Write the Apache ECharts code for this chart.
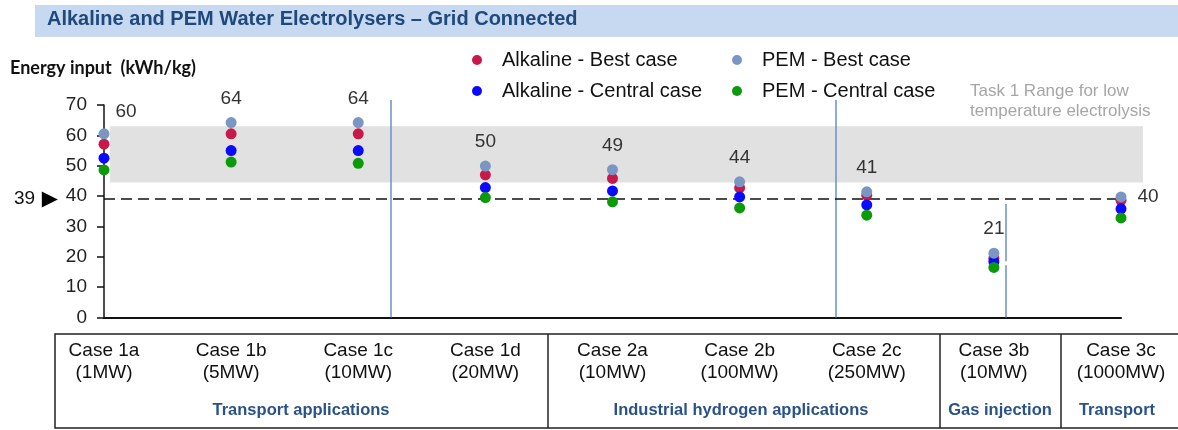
<!DOCTYPE html>
<html>
<head>
<meta charset="utf-8">
<script src="https://cdn.jsdelivr.net/npm/echarts@6/dist/echarts.min.js"></script>
<style>
html, body { margin: 0; padding: 0; background: #fff; }
#chart { width: 1178px; height: 430px; }
</style>
</head>
<body>
<div id="chart"></div>
<script>
var caseNames = ['Case 1a', 'Case 1b', 'Case 1c', 'Case 1d', 'Case 2a', 'Case 2b', 'Case 2c', 'Case 3b', 'Case 3c'];
var caseSizes = ['(1MW)', '(5MW)', '(10MW)', '(20MW)', '(10MW)', '(100MW)', '(250MW)', '(10MW)', '(1000MW)'];
var alkalineBest = [57.1, 60.5, 60.5, 47.0, 45.8, 42.7, 40.3, 19.5, 38.6];
var alkalineCentral = [52.5, 55.0, 55.0, 42.8, 41.7, 39.7, 37.1, 18.4, 35.8];
var pemBest = [60.5, 64.2, 64.2, 49.9, 48.7, 44.7, 41.4, 21.2, 39.7];
var pemCentral = [48.6, 51.2, 50.8, 39.5, 38.1, 36.1, 33.7, 16.5, 32.8];
var pemBestLabels = ['60', '64', '64', '50', '49', '44', '41', '21', '40'];
var groupNames = ['Transport applications', 'Industrial hydrogen applications', 'Gas injection', 'Transport'];
var benchmark = 39;
var task1Range = [44.5, 63];
// separators sit between cases (index units on the helper axis)
var separators = [[2.255, 0, 71.65], [5.756, 0, 71.65], [7.093, 0, 17.2], [7.093, 18.5, 37.4]];

var font = 'Liberation Sans, Arial, sans-serif';
var chart = echarts.init(document.getElementById('chart'));

var pemBestData = pemBest.map(function (v, i) {
    var item = { value: v, label: { formatter: pemBestLabels[i] } };
    if (i === 0) {
        item.label.offset = [22, 2];
    }
    if (i === pemBest.length - 1) {
        item.label.position = 'right';
        item.label.distance = 11;
    }
    return item;
});

function dotSeries(name, data, color) {
    return {
        name: name,
        type: 'scatter',
        data: data,
        symbol: 'circle',
        symbolSize: 11,
        itemStyle: { color: color, opacity: 1 },
        z: 10
    };
}

var option = {
    animation: false,
    title: [
        {
            text: 'Alkaline and PEM Water Electrolysers \u2013 Grid Connected',
            left: 42, top: 4,
            textStyle: { fontFamily: font, fontSize: 20, fontWeight: 'bold', color: '#1f497d' }
        },
        {
            text: 'Energy input  (kWh/kg)',
            left: 5, top: 54,
            textStyle: { fontFamily: 'Lato, sans-serif', fontSize: 18, fontWeight: 'bold', color: '#111' }
        },
        {
            text: 'Task 1 Range for low\ntemperature electrolysis',
            left: 965, top: 76,
            textStyle: { fontFamily: font, fontSize: 17, fontWeight: 'normal', color: '#a6a6a6', lineHeight: 20 }
        }
    ],
    legend: [
        {
            data: ['Alkaline - Best case', 'Alkaline - Central case'],
            orient: 'vertical', left: 467, top: 45,
            icon: 'circle', itemWidth: 40, itemHeight: 10, itemGap: 11,
            textStyle: { fontFamily: font, fontSize: 20, color: '#111' }
        },
        {
            data: ['PEM - Best case', 'PEM - Central case'],
            orient: 'vertical', left: 727, top: 45,
            icon: 'circle', itemWidth: 40, itemHeight: 10, itemGap: 11,
            textStyle: { fontFamily: font, fontSize: 20, color: '#111' }
        }
    ],
    grid: [
        { left: 104, right: 57, top: 105, bottom: 112.5 },
        { left: 104, right: 35, top: 100, bottom: 112.5 }
    ],
    xAxis: [
        {
            type: 'category', data: caseNames, boundaryGap: false, gridIndex: 0,
            axisLine: { lineStyle: { color: '#111', width: 2 } },
            axisTick: { show: false },
            axisLabel: {
                interval: 0, margin: 22, fontFamily: font, fontSize: 19, lineHeight: 22.5, color: '#111',
                formatter: function (v, i) { return v + '\n' + caseSizes[i]; }
            },
            splitLine: { show: false }
        },
        { type: 'value', gridIndex: 1, min: 0, max: 8.173, show: false }
    ],
    yAxis: [
        {
            type: 'value', gridIndex: 0, min: 0, max: 70, interval: 10,
            axisLine: { show: true, lineStyle: { color: '#111', width: 1.5 } },
            axisTick: { show: true, length: 7, lineStyle: { color: '#111', width: 1.5 } },
            axisLabel: { margin: 17, fontFamily: font, fontSize: 19, color: '#222' },
            splitLine: { show: false }
        },
        { type: 'value', gridIndex: 1, min: 0, max: 71.65, show: false }
    ],
    series: [
        {
            name: 'band',
            type: 'scatter',
            xAxisIndex: 1, yAxisIndex: 1,
            data: [],
            z: 1,
            markArea: {
                silent: true,
                itemStyle: { color: '#e1e1e1' },
                data: [[{ xAxis: 0.047, yAxis: task1Range[0] }, { xAxis: 8.173, yAxis: task1Range[1] }]]
            },
            markLine: {
                silent: true,
                symbol: ['none', 'none'],
                label: { show: false },
                lineStyle: { color: '#6a8fc8', width: 1.5, type: 'solid' },
                z: 3,
                data: separators.map(function (s) {
                    return [{ coord: [s[0], s[1]] }, { coord: [s[0], s[2]] }];
                })
            }
        },
        Object.assign(dotSeries('Alkaline - Best case', alkalineBest, '#c8194b'), {
            markLine: {
                silent: true,
                symbol: ['none', 'none'],
                z: 4,
                lineStyle: { color: '#111', width: 1.5, type: [11, 6] },
                label: {
                    show: true, position: 'start', distance: 46,
                    formatter: '{a|39}  {b|\u25B6}',
                    rich: {
                        a: { fontFamily: font, fontSize: 19, color: '#111' },
                        b: { fontFamily: 'DejaVu Sans', fontSize: 21, color: '#000' }
                    }
                },
                data: [{ yAxis: benchmark }]
            }
        }),
        dotSeries('Alkaline - Central case', alkalineCentral, '#0a0aff'),
        dotSeries('PEM - Central case', pemCentral, '#0a9a0a'),
        Object.assign(dotSeries('PEM - Best case', pemBestData, '#7b96c2'), {
            label: {
                show: true, position: 'top', distance: 9,
                fontFamily: font, fontSize: 19, color: '#333'
            }
        })
    ],
    graphic: [
        {
            type: 'rect', z: -10,
            shape: { x: 35, y: 5, width: 1150, height: 32 },
            style: { fill: '#c6d9f1' }
        },
        {
            type: 'rect',
            shape: { x: 55, y: 334, width: 1140, height: 94 },
            style: { fill: 'none', stroke: '#222', lineWidth: 1.5 }
        },
        { type: 'line', shape: { x1: 548, y1: 334, x2: 548, y2: 428 }, style: { stroke: '#222', lineWidth: 1.5 } },
        { type: 'line', shape: { x1: 940, y1: 334, x2: 940, y2: 428 }, style: { stroke: '#222', lineWidth: 1.5 } },
        { type: 'line', shape: { x1: 1061, y1: 334, x2: 1061, y2: 428 }, style: { stroke: '#222', lineWidth: 1.5 } }
    ].concat([301, 741, 1000, 1117].map(function (cx, i) {
        return {
            type: 'text', x: cx, y: 410,
            style: {
                text: groupNames[i], x: 0, y: 0,
                align: 'center', verticalAlign: 'middle',
                font: 'bold 16.5px ' + font, fill: '#2a5289'
            }
        };
    }))
};

chart.setOption(option);
</script>
</body>
</html>
